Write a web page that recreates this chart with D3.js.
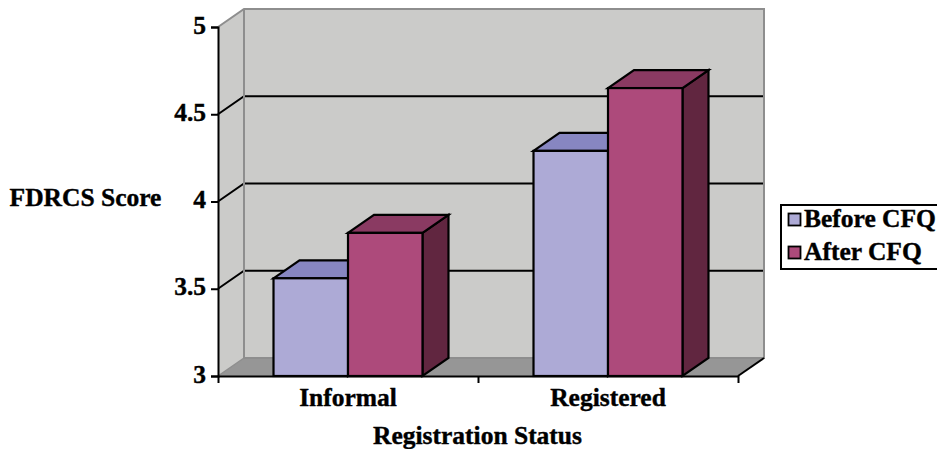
<!DOCTYPE html>
<html>
<head>
<meta charset="utf-8">
<script src="https://cdnjs.cloudflare.com/ajax/libs/d3/7.8.5/d3.min.js"></script>
<style>
html,body{margin:0;padding:0;background:#fff;overflow:hidden}
text{font-family:"Liberation Serif",serif;font-weight:bold;fill:#000;stroke:#000;stroke-width:0.4px}
</style>
</head>
<body>
<svg id="chart" width="937" height="449"></svg>
<script>
const categories = ["Informal", "Registered"];
const seriesNames = ["Before CFQ", "After CFQ"];
const beforeCFQ = [3.56, 4.29];
const afterCFQ = [3.82, 4.65];
const yTicks = [3, 3.5, 4, 4.5, 5];

const frontColors = ["#adaad6", "#ad4a7b"];
const topColors = ["#8786c1", "#8a3a62"];
const sideColors = ["#5a3a68", "#612640"];

const svg = d3.select("#chart");
const plotLeft = 218, plotRight = 738, plotBottom = 376, plotTop = 27;
const dx = 26, dy = -18; // oblique depth of the 3D box
const labelSize = 25.5;

const y = d3.scaleLinear().domain([3, 5]).range([plotBottom, plotTop]);
const x = d3.scaleBand().domain(categories).range([plotLeft, plotRight]).paddingInner(0.427).paddingOuter(0.2135);
const series = d3.scaleBand().domain(seriesNames).range([0, x.bandwidth()]);
const edges = d3.scaleLinear().domain([0, categories.length]).range([plotLeft, plotRight]);

const poly = pts => pts.map(p => p.join(",")).join(" ");

// back wall, side wall, floor
svg.append("polygon").attr("points", poly([[plotLeft + dx, plotTop + dy], [plotRight + dx, plotTop + dy], [plotRight + dx, plotBottom + dy], [plotLeft + dx, plotBottom + dy]]))
  .attr("fill", "#cbcbc9");
svg.append("polygon").attr("points", poly([[plotLeft, plotTop], [plotLeft + dx, plotTop + dy], [plotLeft + dx, plotBottom + dy], [plotLeft, plotBottom]]))
  .attr("fill", "#cbcbc9");
svg.append("polygon").attr("points", poly([[plotLeft, plotBottom], [plotLeft + dx, plotBottom + dy], [plotRight + dx, plotBottom + dy], [plotRight, plotBottom]]))
  .attr("fill", "#969696");

// gridlines along side and back walls
yTicks.filter(v => v > 3 && v < 5).forEach(v => {
  svg.append("polyline").attr("fill", "none").attr("stroke", "#000").attr("stroke-width", 2)
    .attr("points", poly([[plotLeft, y(v)], [plotLeft + dx, y(v) + dy], [plotRight + dx, y(v) + dy]]));
});

// grey wall outlines
svg.append("polyline").attr("fill", "none").attr("stroke", "#8e8e8e").attr("stroke-width", 2)
  .attr("points", poly([[plotLeft, plotTop], [plotLeft + dx, plotTop + dy], [plotRight + dx, plotTop + dy], [plotRight + dx, plotBottom + dy], [plotLeft + dx, plotBottom + dy], [plotLeft + dx, plotTop + dy]]));
svg.append("line").attr("stroke", "#8e8e8e").attr("stroke-width", 1.5)
  .attr("x1", plotLeft).attr("y1", plotBottom).attr("x2", plotLeft + dx).attr("y2", plotBottom + dy);
svg.append("line").attr("stroke", "#000").attr("stroke-width", 2)
  .attr("x1", plotRight).attr("y1", plotBottom).attr("x2", plotRight + dx).attr("y2", plotBottom + dy);

// bars: the second series comes last, so its front face overlaps the first series' top and side
[beforeCFQ, afterCFQ].forEach((values, s) => {
  const g = svg.append("g").attr("stroke", "#000").attr("stroke-width", 2.2).attr("stroke-linejoin", "miter");
  values.forEach((v, i) => {
    const x0 = x(categories[i]) + series(seriesNames[s]);
    const x1 = x0 + series.bandwidth();
    const yt = y(v);
    g.append("polygon").attr("fill", sideColors[s])
      .attr("points", poly([[x1, yt], [x1 + dx, yt + dy], [x1 + dx, plotBottom + dy], [x1, plotBottom]]));
    g.append("polygon").attr("fill", topColors[s])
      .attr("points", poly([[x0, yt], [x0 + dx, yt + dy], [x1 + dx, yt + dy], [x1, yt]]));
    g.append("rect").attr("fill", frontColors[s])
      .attr("x", x0).attr("y", yt).attr("width", x1 - x0).attr("height", plotBottom - yt);
  });
});

// axes
const yAxis = svg.append("g").attr("transform", `translate(${plotLeft},0)`)
  .call(d3.axisLeft(y).tickValues(yTicks).tickFormat(d3.format("~g")).tickSize(7).tickPadding(5));
yAxis.selectAll("text").attr("font-size", labelSize).attr("dy", "0.24em");

const xEdges = svg.append("g").attr("transform", `translate(0,${plotBottom})`)
  .call(d3.axisBottom(edges).tickValues(d3.range(categories.length + 1)).tickFormat("").tickSize(7).tickSizeOuter(0));
const xAxis = svg.append("g").attr("transform", `translate(0,${plotBottom})`)
  .call(d3.axisBottom(x).tickSize(0).tickPadding(12));
xAxis.select(".domain").remove();
xAxis.selectAll("text").attr("font-size", labelSize).attr("dy", "0.71em");

[yAxis, xEdges].forEach(a => a.selectAll("line,path").attr("stroke", "#000").attr("stroke-width", 2));

// axis titles
svg.append("text").attr("x", 85.5).attr("y", 206).attr("text-anchor", "middle").attr("font-size", labelSize).text("FDRCS Score");
svg.append("text").attr("x", 477.5).attr("y", 444).attr("text-anchor", "middle").attr("font-size", labelSize).text("Registration Status");

// legend
const legend = svg.append("g");
legend.append("rect").attr("x", 781).attr("y", 205).attr("width", 170).attr("height", 64)
  .attr("fill", "#fff").attr("stroke", "#000").attr("stroke-width", 2);
seriesNames.forEach((name, i) => {
  const ly = 219 + i * 33;
  legend.append("rect").attr("x", 788.5).attr("y", ly - 5.5).attr("width", 12).attr("height", 12)
    .attr("fill", frontColors[i]).attr("stroke", "#000").attr("stroke-width", 1.8);
  legend.append("text").attr("x", 804).attr("y", ly + 8).attr("font-size", labelSize).text(name);
});
</script>
</body>
</html>
